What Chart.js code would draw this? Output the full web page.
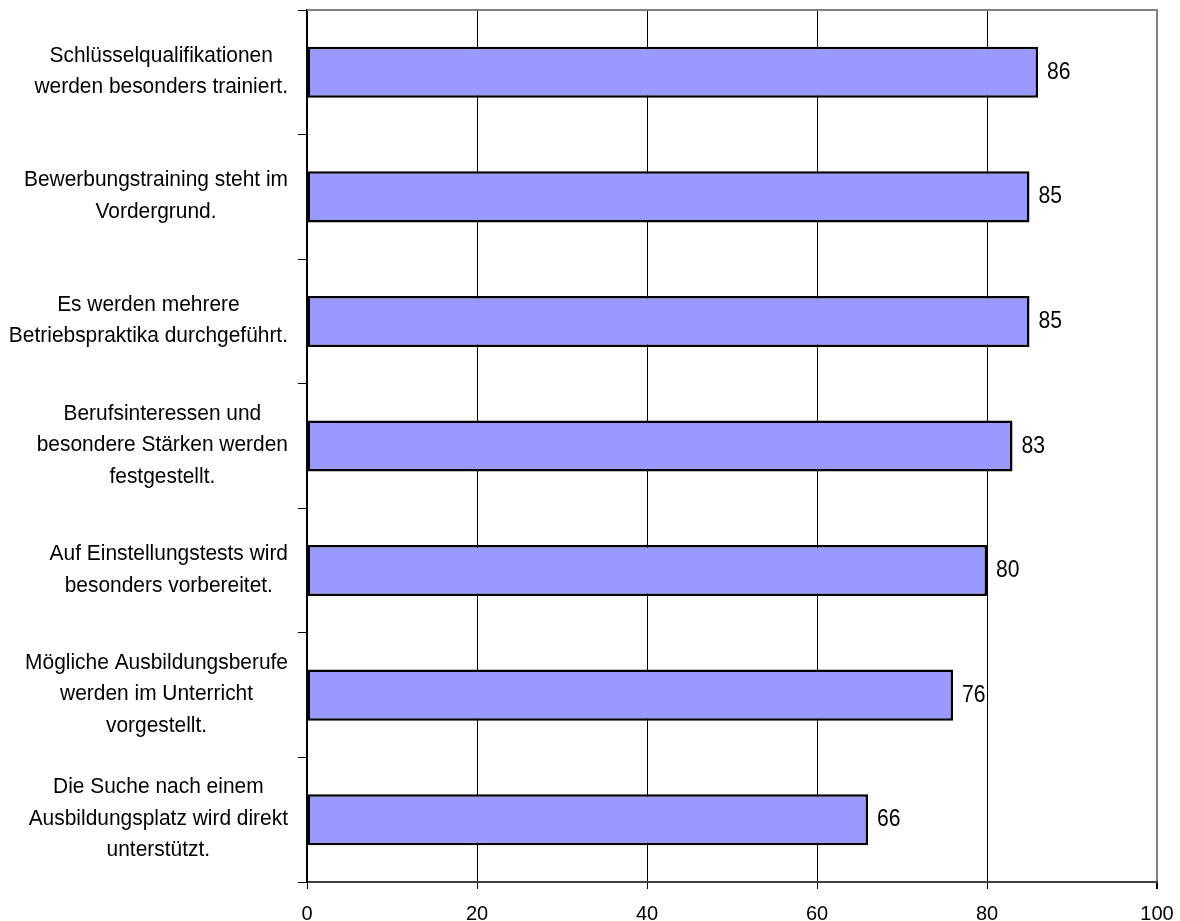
<!DOCTYPE html>
<html>
<head>
<meta charset="utf-8">
<script src="https://cdn.jsdelivr.net/npm/chart.js@4"></script>
<style>
  html, body { margin: 0; padding: 0; background: #fff; }
  #wrap { width: 1180px; height: 921px; position: relative; }
</style>
</head>
<body>
<div id="wrap"><canvas id="chart"></canvas></div>
<script>
// Kategorien (je Zeile ein Array-Eintrag)
const categories = [
  ['Schlüsselqualifikationen', 'werden besonders trainiert.'],
  ['Bewerbungstraining steht im', 'Vordergrund.'],
  ['Es werden mehrere', 'Betriebspraktika durchgeführt.'],
  ['Berufsinteressen und', 'besondere Stärken werden', 'festgestellt.'],
  ['Auf Einstellungstests wird', 'besonders vorbereitet.'],
  ['Mögliche Ausbildungsberufe', 'werden im Unterricht', 'vorgestellt.'],
  ['Die Suche nach einem', 'Ausbildungsplatz wird direkt', 'unterstützt.']
];
const values = [86, 85, 85, 83, 80, 76, 66];
const xTicks = [0, 20, 40, 60, 80, 100];

const FONT = '"Liberation Sans", Arial, sans-serif';

// Text leicht gestaucht zeichnen
function squeezedText(ctx, text, x, y, sx, align) {
  ctx.save();
  ctx.translate(x, y);
  ctx.scale(sx, 1);
  ctx.textAlign = align;
  ctx.fillText(text, 0, 0);
  ctx.restore();
}

// Kategorienbeschriftung: jede Beschriftung für sich zentriert, Block rechtsbündig
const categoryLabels = {
  id: 'categoryLabels',
  afterDraw(chart) {
    const ctx = chart.ctx;
    const y = chart.scales.y;
    const sx = 0.93, lineH = 31.5, rightEdge = 288;
    ctx.save();
    ctx.font = '22.5px ' + FONT;
    ctx.fillStyle = '#000';
    ctx.textBaseline = 'middle';
    categories.forEach((lines, i) => {
      const cy = y.getPixelForTick(i) - 1;
      const widest = Math.max(...lines.map(l => ctx.measureText(l).width * sx));
      const cx = rightEdge - widest / 2;
      lines.forEach((line, k) => {
        const ly = cy + (k - (lines.length - 1) / 2) * lineH;
        squeezedText(ctx, line, cx, ly, sx, 'center');
      });
    });
    ctx.restore();
  }
};

// Werte rechts neben den Balken
const valueLabels = {
  id: 'valueLabels',
  afterDatasetsDraw(chart) {
    const ctx = chart.ctx;
    const meta = chart.getDatasetMeta(0);
    ctx.save();
    ctx.font = '24px ' + FONT;
    ctx.fillStyle = '#000';
    ctx.textBaseline = 'middle';
    meta.data.forEach((bar, i) => {
      squeezedText(ctx, String(values[i]), bar.x + 9, bar.y, 0.88, 'left');
    });
    ctx.restore();
  }
};

// grauer Rahmen oben
const topBorder = {
  id: 'topBorder',
  afterDraw(chart) {
    const { ctx, chartArea } = chart;
    ctx.save();
    ctx.strokeStyle = '#808080';
    ctx.lineWidth = 2;
    ctx.beginPath();
    ctx.moveTo(chartArea.left, chartArea.top);
    ctx.lineTo(chartArea.right + 1, chartArea.top);
    ctx.stroke();
    ctx.restore();
  }
};

new Chart(document.getElementById('chart'), {
  type: 'bar',
  data: {
    labels: categories,
    datasets: [{
      data: values,
      backgroundColor: '#9999FF',
      borderColor: '#000',
      borderWidth: 2.5,
      borderSkipped: false,
      categoryPercentage: 1,
      barPercentage: 0.41
    }]
  },
  options: {
    indexAxis: 'y',
    responsive: true,
    maintainAspectRatio: false,
    animation: false,
    layout: { padding: { top: 10, right: 23, left: 0, bottom: 0 } },
    plugins: {
      legend: { display: false },
      tooltip: { enabled: false }
    },
    scales: {
      x: {
        min: 0,
        max: 100,
        afterBuildTicks: (scale) => { scale.ticks = xTicks.map(v => ({ value: v })); },
        afterFit: (scale) => {
          scale.height = 39;
          scale.paddingLeft = 0;
          scale.paddingRight = 0;
        },
        border: { color: '#404040', width: 2 },
        grid: {
          color: (c) => c.tick && c.tick.value === 100 ? '#808080' : '#000',
          lineWidth: (c) => c.tick && c.tick.value === 100 ? 2 : 1,
          tickColor: '#000',
          tickLength: 7
        },
        ticks: {
          color: '#000',
          padding: 13,
          font: { family: FONT, size: 20 }
        }
      },
      y: {
        afterFit: (scale) => { scale.width = 307; },
        border: { color: '#000', width: 2 },
        grid: {
          offset: true,
          drawOnChartArea: false,
          color: '#000',
          tickLength: 9
        },
        ticks: { display: false }
      }
    }
  },
  plugins: [categoryLabels, valueLabels, topBorder]
});
</script>
</body>
</html>
